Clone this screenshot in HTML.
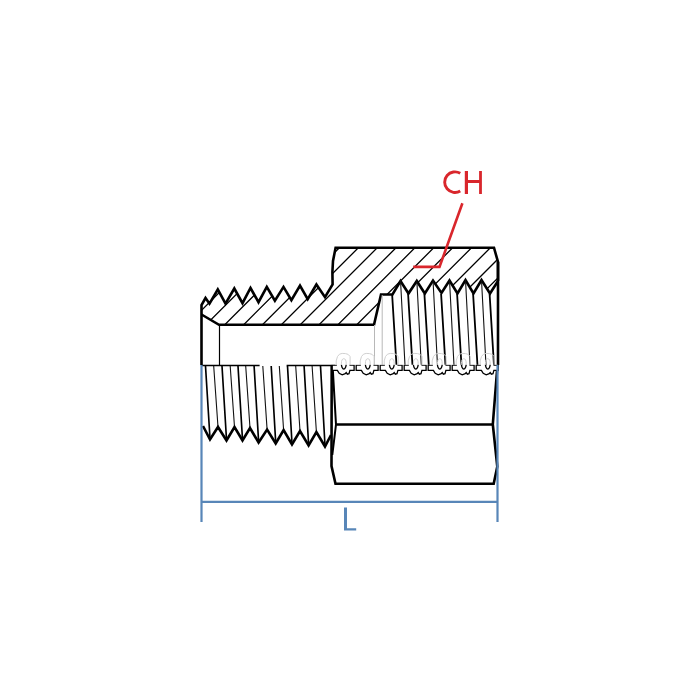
<!DOCTYPE html><html><head><meta charset="utf-8"><style>html,body{margin:0;padding:0;background:#fff;}svg{display:block;}</style></head><body><svg width="700" height="700" viewBox="0 0 700 700"><rect width="700" height="700" fill="#fff"/><defs><clipPath id="hc"><polygon points="201.5,305.0 205.5,298.0 209.5,303.7 217.8,289.5 225.5,303.7 234.3,288.5 242.5,303.2 250.5,288.0 258.5,302.2 266.8,286.9 274.9,300.7 283.5,286.9 291.4,300.2 300.0,285.5 307.7,299.2 316.4,284.5 325.0,297.2 332.6,284.5 332.4,272.0 333.0,261.0 335.6,247.7 494.0,247.7 498.0,262.0 498.0,281.0 490.0,293.5 481.5,280.0 473.5,293.5 465.5,280.0 457.5,293.5 449.5,280.5 441.5,293.0 433.0,280.5 424.8,293.5 416.8,281.0 408.5,293.5 400.5,281.0 392.5,294.5 381.0,294.5 374.0,324.8 219.0,324.8 201.5,314.5"/></clipPath></defs><path clip-path="url(#hc)" d="M-159.7,200L-359.7,400M-140.8,200L-340.8,400M-122.0,200L-322.0,400M-103.1,200L-303.1,400M-84.3,200L-284.3,400M-65.4,200L-265.4,400M-46.5,200L-246.5,400M-27.7,200L-227.7,400M-8.8,200L-208.8,400M10.0,200L-190.0,400M28.9,200L-171.1,400M47.8,200L-152.2,400M66.6,200L-133.4,400M85.5,200L-114.5,400M104.3,200L-95.7,400M123.2,200L-76.8,400M142.1,200L-57.9,400M160.9,200L-39.1,400M179.8,200L-20.2,400M198.6,200L-1.4,400M217.5,200L17.5,400M236.4,200L36.4,400M255.2,200L55.2,400M274.1,200L74.1,400M292.9,200L92.9,400M311.8,200L111.8,400M330.7,200L130.7,400M349.5,200L149.5,400M368.4,200L168.4,400M387.2,200L187.2,400M406.1,200L206.1,400M425.0,200L225.0,400M443.8,200L243.8,400M462.7,200L262.7,400M481.5,200L281.5,400M500.4,200L300.4,400M519.3,200L319.3,400M538.1,200L338.1,400M557.0,200L357.0,400M575.8,200L375.8,400M594.7,200L394.7,400M613.6,200L413.6,400M632.4,200L432.4,400M651.3,200L451.3,400M670.1,200L470.1,400M689.0,200L489.0,400M707.9,200L507.9,400M726.7,200L526.7,400M745.6,200L545.6,400M764.4,200L564.4,400M783.3,200L583.3,400M802.2,200L602.2,400M821.0,200L621.0,400M839.9,200L639.9,400M858.7,200L658.7,400M877.6,200L677.6,400M896.5,200L696.5,400" stroke="#000" stroke-width="1.3" fill="none"/><polyline points="201.5,365.0 201.5,305.0 205.5,298.0 209.5,303.7 217.8,289.5 225.5,303.7 234.3,288.5 242.5,303.2 250.5,288.0 258.5,302.2 266.8,286.9 274.9,300.7 283.5,286.9 291.4,300.2 300.0,285.5 307.7,299.2 316.4,284.5 325.0,297.2 332.6,284.5 332.4,272.0 333.0,261.0 335.6,247.7 494.0,247.7 498.0,262.0 498.0,281.0" fill="none" stroke="#000" stroke-width="2.6" stroke-linejoin="miter"/><polyline points="498.0,262.0 498.0,365.0" fill="none" stroke="#000" stroke-width="2.6"/><polyline points="498.0,281.0 490.0,293.5 481.5,280.0 473.5,293.5 465.5,280.0 457.5,293.5 449.5,280.5 441.5,293.0 433.0,280.5 424.8,293.5 416.8,281.0 408.5,293.5 400.5,281.0 392.5,294.5 381.0,294.5 374.0,324.8 219.0,324.8 201.5,314.5" fill="none" stroke="#000" stroke-width="2.6" stroke-linejoin="miter"/><path d="M219.5,324.5V365.5" stroke="#000" stroke-width="1.2" fill="none"/><path d="M374.5,325V365.5M382.2,295V365.5" stroke="#b8b8b8" stroke-width="1" fill="none"/><path d="M392.1,294L396.5,365.5M408.1,294L412.5,365.5M424.4,294L428.8,365.5M441.1,294L445.5,365.5M457.1,294L461.5,365.5M473.1,294L477.5,365.5M489.6,294L494.0,365.5" stroke="#000" stroke-width="1.8" fill="none"/><path d="M400.5,280L405.0,365.5M416.8,280L421.3,365.5M433.0,280L437.5,365.5M449.5,280L454.0,365.5M465.5,280L470.0,365.5M481.5,280L486.0,365.5" stroke="#111" stroke-width="1.1" fill="none"/><path d="M205.5,366L210.0,438.5M222.0,366L226.5,439.5M238.0,366L242.5,439.5M254.1,366L258.6,441.5M271.2,366L275.7,442.5M287.5,366L292.0,443.5M304.1,366L308.6,444.5M320.5,366L325.0,445.5" stroke="#000" stroke-width="1.65" fill="none"/><path d="M213.7,366L218.0,427.0M230.2,366L234.5,427.0M245.7,366L250.0,428.0M262.8,366L267.1,429.6M279.3,366L283.6,430.0M295.7,366L300.0,431.0M312.1,366L316.4,432.0" stroke="#111" stroke-width="1.1" fill="none"/><polyline points="203.0,426.0 210.0,439.5 218.0,427.0 226.5,440.5 234.5,427.0 242.5,440.5 250.0,428.0 258.6,442.5 267.1,429.6 275.7,443.5 283.6,430.0 292.0,444.5 300.0,431.0 308.6,445.5 316.4,432.0 325.0,446.5 331.0,435.0" fill="none" stroke="#000" stroke-width="2.6" stroke-linejoin="miter"/><path d="M202,365.5H259.6M286.6,365.5H335" stroke="#000" stroke-width="1.4" fill="none"/><polyline points="497.5,365.0 492.8,424.5 497.3,466.5 493.7,483.7 335.5,483.7 331.5,466.0 331.7,366.0" fill="none" stroke="#000" stroke-width="2.6" stroke-linejoin="miter"/><path d="M336.3,424.5H492.8" stroke="#000" stroke-width="2.6" fill="none"/><path d="M332.6,366L336,424.5L332.3,455" stroke="#000" stroke-width="2.0" fill="none"/><defs><clipPath id="cup"><rect x="0" y="0" width="700" height="364.8"/></clipPath><clipPath id="cdn"><rect x="0" y="364.8" width="700" height="400"/></clipPath></defs><path d="M332.20,365.20L336.20,365.20L336.20,360.90L337.50,356.50L339.50,354.20L342.20,353.40L345.50,353.60L348.20,354.40L350.10,356.60L350.10,365.20L354.10,365.20L354.10,370.30L349.90,370.30L349.00,373.70L347.30,374.20L346.20,372.50L345.20,373.70L342.20,374.80L339.20,373.30L337.40,370.30L332.20,370.30ZM356.20,365.20L360.20,365.20L360.20,360.90L361.50,356.50L363.50,354.20L366.20,353.40L369.50,353.60L372.20,354.40L374.10,356.60L374.10,365.20L378.10,365.20L378.10,370.30L373.90,370.30L373.00,373.70L371.30,374.20L370.20,372.50L369.20,373.70L366.20,374.80L363.20,373.30L361.40,370.30L356.20,370.30ZM380.20,365.20L384.20,365.20L384.20,360.90L385.50,356.50L387.50,354.20L390.20,353.40L393.50,353.60L396.20,354.40L398.10,356.60L398.10,365.20L402.10,365.20L402.10,370.30L397.90,370.30L397.00,373.70L395.30,374.20L394.20,372.50L393.20,373.70L390.20,374.80L387.20,373.30L385.40,370.30L380.20,370.30ZM404.20,365.20L408.20,365.20L408.20,360.90L409.50,356.50L411.50,354.20L414.20,353.40L417.50,353.60L420.20,354.40L422.10,356.60L422.10,365.20L426.10,365.20L426.10,370.30L421.90,370.30L421.00,373.70L419.30,374.20L418.20,372.50L417.20,373.70L414.20,374.80L411.20,373.30L409.40,370.30L404.20,370.30ZM428.20,365.20L432.20,365.20L432.20,360.90L433.50,356.50L435.50,354.20L438.20,353.40L441.50,353.60L444.20,354.40L446.10,356.60L446.10,365.20L450.10,365.20L450.10,370.30L445.90,370.30L445.00,373.70L443.30,374.20L442.20,372.50L441.20,373.70L438.20,374.80L435.20,373.30L433.40,370.30L428.20,370.30ZM452.20,365.20L456.20,365.20L456.20,360.90L457.50,356.50L459.50,354.20L462.20,353.40L465.50,353.60L468.20,354.40L470.10,356.60L470.10,365.20L474.10,365.20L474.10,370.30L469.90,370.30L469.00,373.70L467.30,374.20L466.20,372.50L465.20,373.70L462.20,374.80L459.20,373.30L457.40,370.30L452.20,370.30ZM476.20,365.20L480.20,365.20L480.20,360.90L481.50,356.50L483.50,354.20L486.20,353.40L489.50,353.60L492.20,354.40L494.10,356.60L494.10,365.20L498.10,365.20L498.10,370.30L493.90,370.30L493.00,373.70L491.30,374.20L490.20,372.50L489.20,373.70L486.20,374.80L483.20,373.30L481.40,370.30L476.20,370.30ZM341.40,363.9a2.4,5.2 0 1,0 4.8,0a2.4,5.2 0 1,0 -4.8,0ZM365.40,363.9a2.4,5.2 0 1,0 4.8,0a2.4,5.2 0 1,0 -4.8,0ZM389.40,363.9a2.4,5.2 0 1,0 4.8,0a2.4,5.2 0 1,0 -4.8,0ZM413.40,363.9a2.4,5.2 0 1,0 4.8,0a2.4,5.2 0 1,0 -4.8,0ZM437.40,363.9a2.4,5.2 0 1,0 4.8,0a2.4,5.2 0 1,0 -4.8,0ZM461.40,363.9a2.4,5.2 0 1,0 4.8,0a2.4,5.2 0 1,0 -4.8,0ZM485.40,363.9a2.4,5.2 0 1,0 4.8,0a2.4,5.2 0 1,0 -4.8,0Z" fill="#fff" fill-rule="evenodd" stroke="none" clip-path="url(#cdn)"/><path d="M332.20,365.20L336.20,365.20L336.20,360.90L337.50,356.50L339.50,354.20L342.20,353.40L345.50,353.60L348.20,354.40L350.10,356.60L350.10,365.20L354.10,365.20L354.10,370.30L349.90,370.30L349.00,373.70L347.30,374.20L346.20,372.50L345.20,373.70L342.20,374.80L339.20,373.30L337.40,370.30L332.20,370.30ZM356.20,365.20L360.20,365.20L360.20,360.90L361.50,356.50L363.50,354.20L366.20,353.40L369.50,353.60L372.20,354.40L374.10,356.60L374.10,365.20L378.10,365.20L378.10,370.30L373.90,370.30L373.00,373.70L371.30,374.20L370.20,372.50L369.20,373.70L366.20,374.80L363.20,373.30L361.40,370.30L356.20,370.30ZM380.20,365.20L384.20,365.20L384.20,360.90L385.50,356.50L387.50,354.20L390.20,353.40L393.50,353.60L396.20,354.40L398.10,356.60L398.10,365.20L402.10,365.20L402.10,370.30L397.90,370.30L397.00,373.70L395.30,374.20L394.20,372.50L393.20,373.70L390.20,374.80L387.20,373.30L385.40,370.30L380.20,370.30ZM404.20,365.20L408.20,365.20L408.20,360.90L409.50,356.50L411.50,354.20L414.20,353.40L417.50,353.60L420.20,354.40L422.10,356.60L422.10,365.20L426.10,365.20L426.10,370.30L421.90,370.30L421.00,373.70L419.30,374.20L418.20,372.50L417.20,373.70L414.20,374.80L411.20,373.30L409.40,370.30L404.20,370.30ZM428.20,365.20L432.20,365.20L432.20,360.90L433.50,356.50L435.50,354.20L438.20,353.40L441.50,353.60L444.20,354.40L446.10,356.60L446.10,365.20L450.10,365.20L450.10,370.30L445.90,370.30L445.00,373.70L443.30,374.20L442.20,372.50L441.20,373.70L438.20,374.80L435.20,373.30L433.40,370.30L428.20,370.30ZM452.20,365.20L456.20,365.20L456.20,360.90L457.50,356.50L459.50,354.20L462.20,353.40L465.50,353.60L468.20,354.40L470.10,356.60L470.10,365.20L474.10,365.20L474.10,370.30L469.90,370.30L469.00,373.70L467.30,374.20L466.20,372.50L465.20,373.70L462.20,374.80L459.20,373.30L457.40,370.30L452.20,370.30ZM476.20,365.20L480.20,365.20L480.20,360.90L481.50,356.50L483.50,354.20L486.20,353.40L489.50,353.60L492.20,354.40L494.10,356.60L494.10,365.20L498.10,365.20L498.10,370.30L493.90,370.30L493.00,373.70L491.30,374.20L490.20,372.50L489.20,373.70L486.20,374.80L483.20,373.30L481.40,370.30L476.20,370.30ZM341.40,363.9a2.4,5.2 0 1,0 4.8,0a2.4,5.2 0 1,0 -4.8,0ZM365.40,363.9a2.4,5.2 0 1,0 4.8,0a2.4,5.2 0 1,0 -4.8,0ZM389.40,363.9a2.4,5.2 0 1,0 4.8,0a2.4,5.2 0 1,0 -4.8,0ZM413.40,363.9a2.4,5.2 0 1,0 4.8,0a2.4,5.2 0 1,0 -4.8,0ZM437.40,363.9a2.4,5.2 0 1,0 4.8,0a2.4,5.2 0 1,0 -4.8,0ZM461.40,363.9a2.4,5.2 0 1,0 4.8,0a2.4,5.2 0 1,0 -4.8,0ZM485.40,363.9a2.4,5.2 0 1,0 4.8,0a2.4,5.2 0 1,0 -4.8,0Z" fill="none" stroke="#000" stroke-width="1.3" clip-path="url(#cdn)"/><path d="M332.20,365.20L336.20,365.20L336.20,360.90L337.50,356.50L339.50,354.20L342.20,353.40L345.50,353.60L348.20,354.40L350.10,356.60L350.10,365.20L354.10,365.20L354.10,370.30L349.90,370.30L349.00,373.70L347.30,374.20L346.20,372.50L345.20,373.70L342.20,374.80L339.20,373.30L337.40,370.30L332.20,370.30ZM356.20,365.20L360.20,365.20L360.20,360.90L361.50,356.50L363.50,354.20L366.20,353.40L369.50,353.60L372.20,354.40L374.10,356.60L374.10,365.20L378.10,365.20L378.10,370.30L373.90,370.30L373.00,373.70L371.30,374.20L370.20,372.50L369.20,373.70L366.20,374.80L363.20,373.30L361.40,370.30L356.20,370.30ZM380.20,365.20L384.20,365.20L384.20,360.90L385.50,356.50L387.50,354.20L390.20,353.40L393.50,353.60L396.20,354.40L398.10,356.60L398.10,365.20L402.10,365.20L402.10,370.30L397.90,370.30L397.00,373.70L395.30,374.20L394.20,372.50L393.20,373.70L390.20,374.80L387.20,373.30L385.40,370.30L380.20,370.30ZM404.20,365.20L408.20,365.20L408.20,360.90L409.50,356.50L411.50,354.20L414.20,353.40L417.50,353.60L420.20,354.40L422.10,356.60L422.10,365.20L426.10,365.20L426.10,370.30L421.90,370.30L421.00,373.70L419.30,374.20L418.20,372.50L417.20,373.70L414.20,374.80L411.20,373.30L409.40,370.30L404.20,370.30ZM428.20,365.20L432.20,365.20L432.20,360.90L433.50,356.50L435.50,354.20L438.20,353.40L441.50,353.60L444.20,354.40L446.10,356.60L446.10,365.20L450.10,365.20L450.10,370.30L445.90,370.30L445.00,373.70L443.30,374.20L442.20,372.50L441.20,373.70L438.20,374.80L435.20,373.30L433.40,370.30L428.20,370.30ZM452.20,365.20L456.20,365.20L456.20,360.90L457.50,356.50L459.50,354.20L462.20,353.40L465.50,353.60L468.20,354.40L470.10,356.60L470.10,365.20L474.10,365.20L474.10,370.30L469.90,370.30L469.00,373.70L467.30,374.20L466.20,372.50L465.20,373.70L462.20,374.80L459.20,373.30L457.40,370.30L452.20,370.30ZM476.20,365.20L480.20,365.20L480.20,360.90L481.50,356.50L483.50,354.20L486.20,353.40L489.50,353.60L492.20,354.40L494.10,356.60L494.10,365.20L498.10,365.20L498.10,370.30L493.90,370.30L493.00,373.70L491.30,374.20L490.20,372.50L489.20,373.70L486.20,374.80L483.20,373.30L481.40,370.30L476.20,370.30ZM341.40,363.9a2.4,5.2 0 1,0 4.8,0a2.4,5.2 0 1,0 -4.8,0ZM365.40,363.9a2.4,5.2 0 1,0 4.8,0a2.4,5.2 0 1,0 -4.8,0ZM389.40,363.9a2.4,5.2 0 1,0 4.8,0a2.4,5.2 0 1,0 -4.8,0ZM413.40,363.9a2.4,5.2 0 1,0 4.8,0a2.4,5.2 0 1,0 -4.8,0ZM437.40,363.9a2.4,5.2 0 1,0 4.8,0a2.4,5.2 0 1,0 -4.8,0ZM461.40,363.9a2.4,5.2 0 1,0 4.8,0a2.4,5.2 0 1,0 -4.8,0ZM485.40,363.9a2.4,5.2 0 1,0 4.8,0a2.4,5.2 0 1,0 -4.8,0Z" fill="none" stroke="#d0d0d0" stroke-width="1.0" clip-path="url(#cup)"/><path d="M201.5,365V522M497.5,365V522M201.5,501.8H497.5" stroke="#5886b8" stroke-width="2.2" fill="none"/><path d="M344,507.5H347V528.3H356.2V530.5H344Z" fill="#5886b8"/><path d="M460.25,173.3A10.3,10.3 0 1,0 460.25,191.0" fill="none" stroke="#d9262c" stroke-width="2.9"/><path d="M464.8,171.1H468V180H479.1V171.1H481.9V193.9H479.1V182.9H468V193.9H464.8Z" fill="#d9262c"/><polyline points="462.4,203.2 439.5,266.9 413.2,266.9" fill="none" stroke="#d9262c" stroke-width="2.6"/></svg></body></html>
